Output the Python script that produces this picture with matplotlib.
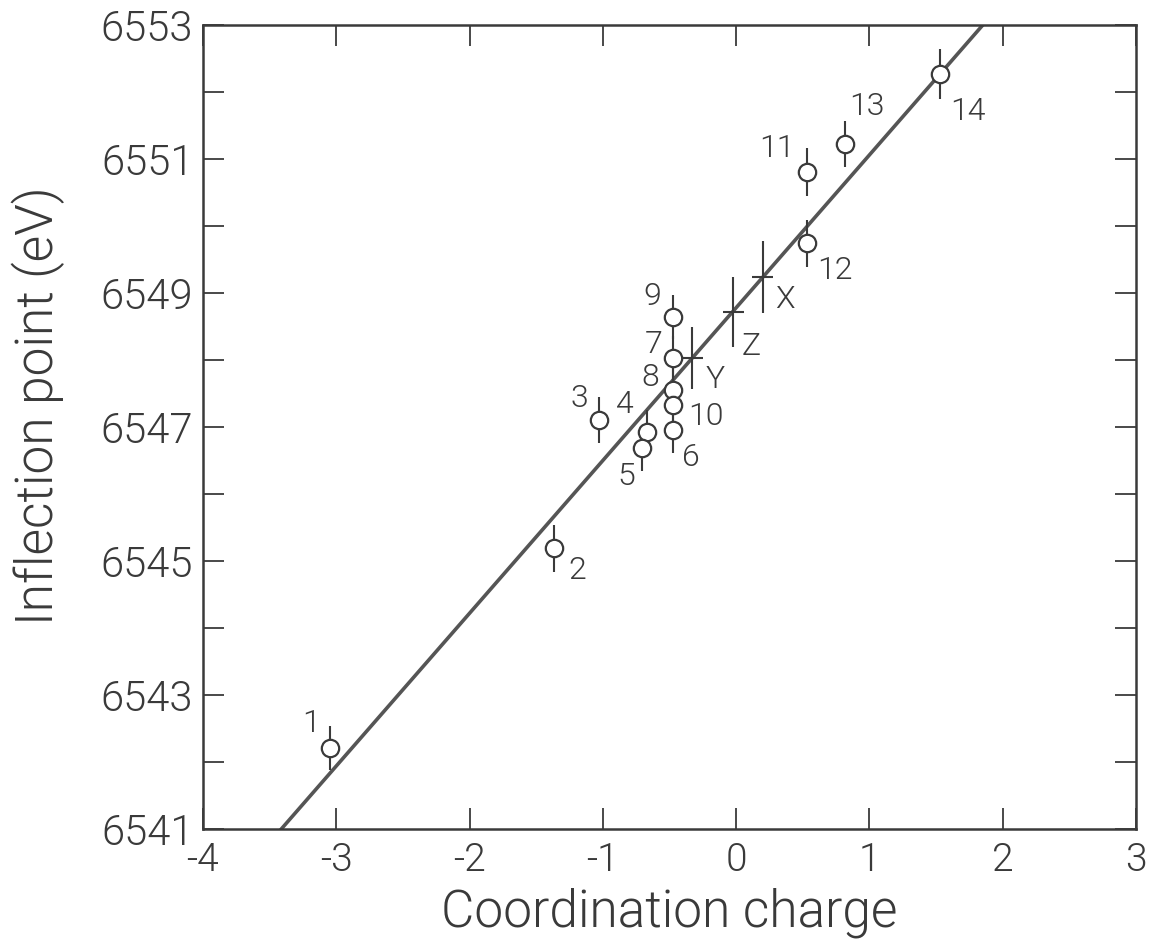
import matplotlib
import matplotlib.pyplot as plt

matplotlib.use('Agg')

plt.rcParams['font.family'] = ['Roboto', 'DejaVu Sans']
plt.rcParams['font.weight'] = 300
plt.rcParams['axes.labelweight'] = 300
plt.rcParams['axes.unicode_minus'] = False

# measured compounds (coordination charge, inflection point, error)
labels = ["1", "2", "3", "4", "5", "6", "7", "8", "9", "10", "11", "12", "13", "14"]
charge = [-3.05, -1.37, -1.03, -0.67, -0.71, -0.47, -0.47, -0.47, -0.47, -0.47,
          0.53, 0.53, 0.82, 1.53]
energy = [6542.21, 6545.19, 6547.10, 6546.93, 6546.68, 6546.96, 6548.03, 6547.55,
          6548.64, 6547.33, 6550.81, 6549.74, 6551.22, 6552.27]
energy_err = [0.33, 0.35, 0.34, 0.33, 0.33, 0.35, 0.33, 0.33, 0.33, 0.33,
              0.36, 0.35, 0.34, 0.37]

# estimated samples placed on the fit
est_labels = ["X", "Y", "Z"]
est_charge = [0.20, -0.33, -0.02]
est_energy = [6549.24, 6548.03, 6548.72]
est_err = [0.54, 0.46, 0.52]
est_xerr = 0.08

# linear fit
fit_slope = 2.28
fit_intercept = 6548.78
fit_x = [-4, 3]

# label offsets in pixels (dx, dy)
label_offsets = [(-19, 24), (24, -22), (-19, 22), (-22, 27), (-15, -28), (17, -28),
                 (-20, 13), (-23, 13), (-21, 21), (32, -12), (-30, 23), (28, -27),
                 (22, 38), (28, -38)]
est_offsets = [(22, -23), (23, -22), (18, -35)]

ink = '#3a3a3a'

fig = plt.figure(figsize=(11.58, 9.46), dpi=100)
ax = fig.add_axes([0.1753, 0.1237, 0.8057, 0.8499])

ax.plot(fit_x, [fit_intercept + fit_slope * x for x in fit_x], color='#555555', lw=2.6,
        solid_capstyle='butt', zorder=2)

ax.errorbar(charge, energy, yerr=energy_err, fmt='o', ms=12.5, mfc='white', mec=ink,
            mew=1.6, ecolor=ink, elinewidth=1.5, capsize=0, zorder=3)

ax.errorbar(est_charge, est_energy, yerr=est_err, xerr=est_xerr, fmt='none',
            ecolor=ink, elinewidth=1.5, capsize=0, zorder=3)

for lab, x, y, off in zip(labels, charge, energy, label_offsets):
    ax.annotate(lab, (x, y), xytext=off, textcoords='offset pixels', ha='center',
                va='center', fontsize=23, color=ink)
for lab, x, y, off in zip(est_labels, est_charge, est_energy, est_offsets):
    ax.annotate(lab, (x, y), xytext=off, textcoords='offset pixels', ha='center',
                va='center', fontsize=23, color=ink)

ax.set_xlim(-4, 3)
ax.set_ylim(6541, 6553)
ax.set_xticks(range(-4, 4))
ax.set_yticks(range(6541, 6554, 2))
ax.set_yticks(range(6542, 6553, 2), minor=True)
ax.tick_params(which='both', direction='in', top=True, right=True, length=15,
               width=1.3, color=ink, labelcolor=ink)
ax.tick_params(axis='y', labelsize=30, pad=7)
ax.tick_params(axis='x', labelsize=28, pad=9)
for sp in ax.spines.values():
    sp.set_color(ink)
    sp.set_linewidth(1.8)

ax.set_xlabel("Coordination charge", fontsize=37, color=ink, labelpad=6)
ax.set_ylabel("Inflection point (eV)", fontsize=37, color=ink)
ax.yaxis.set_label_coords(-0.148, 0.526)

plt.savefig("out.png", dpi=100)
plt.close()
